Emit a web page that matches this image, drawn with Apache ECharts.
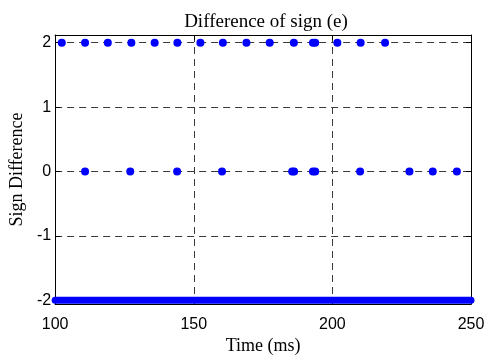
<!DOCTYPE html>
<html>
<head>
<meta charset="utf-8">
<script src="https://cdn.jsdelivr.net/npm/echarts@6/dist/echarts.min.js"></script>
<style>
  html, body { margin: 0; padding: 0; background: #fff; }
  #chart { width: 491px; height: 360px; }
</style>
</head>
<body>
<div id="chart"></div>
<script>
// Sample times (ms) where the sign difference is +2
const timesAtTwo = [102.4, 110.8, 119.0, 127.5, 135.9, 144.1, 152.4, 160.5, 169.0, 177.4, 186.1, 193.0, 193.8, 201.8, 210.2, 219.0];
// Sample times (ms) where the sign difference is 0
const timesAtZero = [110.8, 127.1, 144.0, 160.2, 185.5, 186.2, 193.0, 193.8, 210.0, 227.8, 236.2, 244.9];
// Continuous run of -2 samples covering the whole window
const floorSpan = [100, 250];
const floorValue = -2;
// Axis ticks
const xTicks = [100, 150, 200, 250];
const yTicks = [-2, -1, 0, 1, 2];

const serif = 'Liberation Serif';
const sans = 'Liberation Sans';
const blue = '#0000ff';
const gridLine = { show: true, lineStyle: { color: '#3a3a3a', type: [7, 5], width: 1 } };

const chart = echarts.init(document.getElementById('chart'), null, { renderer: 'canvas' });
chart.setOption({
  animation: false,
  backgroundColor: '#fff',
  title: {
    text: 'Difference of sign (e)',
    left: 261, top: 8, textAlign: 'center',
    textStyle: { fontFamily: serif, fontWeight: 'normal', fontSize: 19, color: '#000' }
  },
  grid: { left: 55, right: 20, top: 35, bottom: 51 },
  xAxis: [{
    type: 'value', min: 100, max: 250, interval: 50,
    name: 'Time (ms)', nameLocation: 'middle', nameGap: 30,
    nameTextStyle: { fontFamily: serif, fontSize: 18, color: '#000' },
    axisLine: { show: true, onZero: false, lineStyle: { color: '#000', width: 1 } },
    axisTick: { show: true, inside: true, length: 5, lineStyle: { color: '#000' } },
    axisLabel: { fontFamily: sans, fontSize: 16, color: '#000', margin: 12,
                 customValues: xTicks },
    splitLine: gridLine
  }, {
    type: 'value', min: 100, max: 250, interval: 50, position: 'top',
    axisLine: { show: true, onZero: false, lineStyle: { color: '#000', width: 1 } },
    axisTick: { show: true, inside: true, length: 5, lineStyle: { color: '#000' } },
    axisLabel: { show: false }, splitLine: { show: false }
  }],
  yAxis: [{
    type: 'value', min: -2.06, max: 2.12,
    name: 'Sign Difference', nameLocation: 'middle', nameGap: 28,
    nameTextStyle: { fontFamily: serif, fontSize: 18, color: '#000' },
    axisLine: { show: true, onZero: false, lineStyle: { color: '#000', width: 1 } },
    axisTick: { show: true, inside: true, length: 5, customValues: yTicks, lineStyle: { color: '#000' } },
    axisLabel: { fontFamily: sans, fontSize: 16, color: '#000', margin: 4, customValues: yTicks },
    splitLine: gridLine
  }, {
    type: 'value', min: -2.06, max: 2.12, position: 'right',
    axisLine: { show: true, onZero: false, lineStyle: { color: '#000', width: 1 } },
    axisTick: { show: true, inside: true, length: 5, customValues: yTicks, lineStyle: { color: '#000' } },
    axisLabel: { show: false }, splitLine: { show: false }
  }],
  series: [{
    type: 'line',
    data: floorSpan.map(t => [t, floorValue]),
    showSymbol: false, symbol: 'none',
    lineStyle: { color: blue, width: 7, cap: 'round', opacity: 1 },
    itemStyle: { color: blue },
    silent: true, z: 3
  }, {
    type: 'scatter',
    data: timesAtTwo.map(t => [t, 2]),
    symbol: 'circle', symbolSize: 8,
    itemStyle: { color: blue, opacity: 1 },
    z: 4
  }, {
    type: 'scatter',
    data: timesAtZero.map(t => [t, 0]),
    symbol: 'circle', symbolSize: 8,
    itemStyle: { color: blue, opacity: 1 },
    z: 4
  }]
});
</script>
</body>
</html>
